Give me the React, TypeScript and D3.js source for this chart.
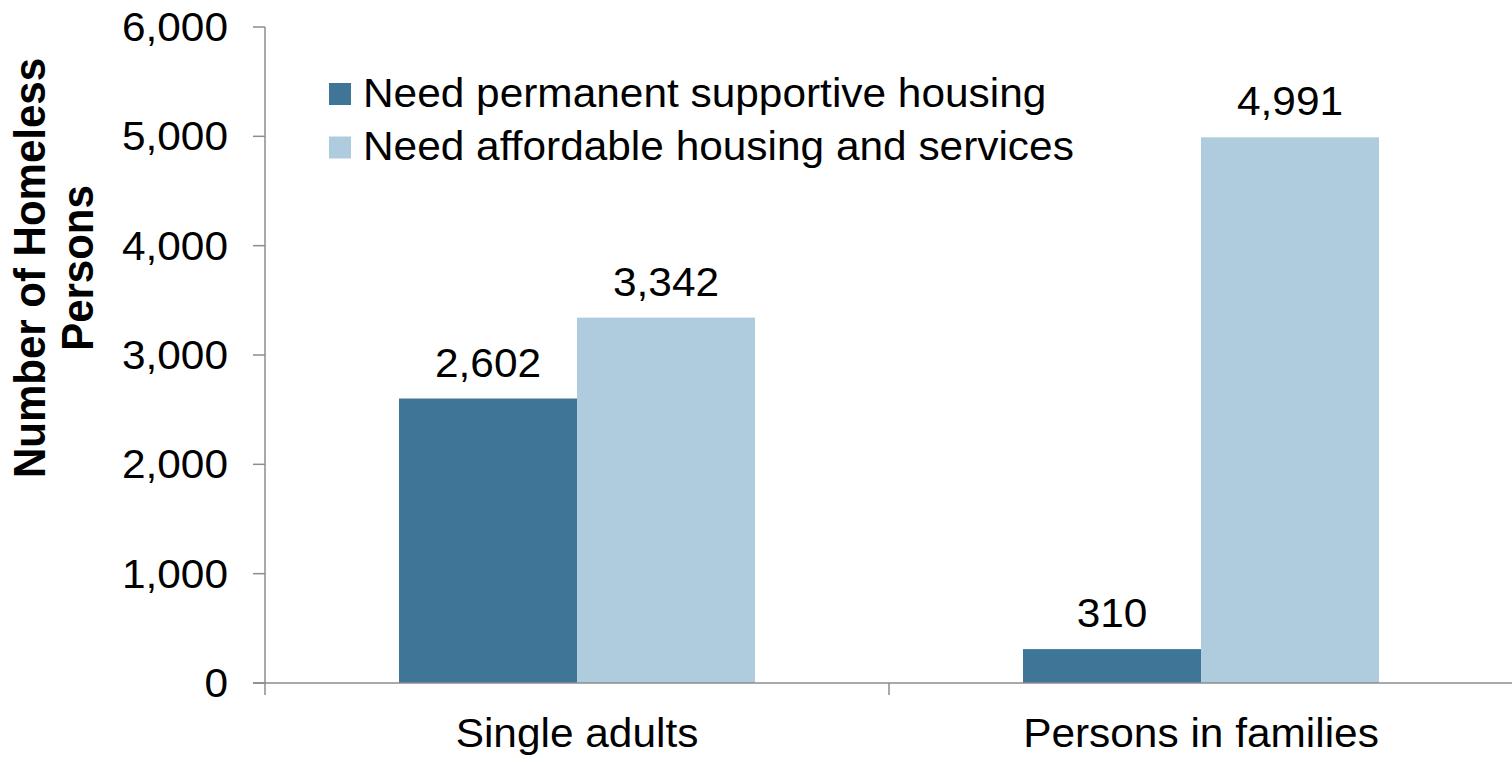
import React from "react";
import * as d3 from "d3";

const categories = ["Single adults", "Persons in families"];
const seriesNames = ["Need permanent supportive housing", "Need affordable housing and services"];
const permanentSupportive = [2602, 310];
const affordableServices = [3342, 4991];
const yTicks = [0, 1000, 2000, 3000, 4000, 5000, 6000];
const seriesColors = ["#3F7698", "#AECCDE"];
const yTitleLines = ["Number of Homeless", "Persons"];

const W = 1512;
const H = 758;
const FONT = "'Liberation Sans', Arial, sans-serif";
const SX = 1.06;
const AXIS = "#8C8C8C";

function T({ x, y, anchor = "start", size = 40, weight = "normal", rotate = 0, children }: any) {
  return (
    <text
      transform={`translate(${x},${y}) scale(${SX},1)${rotate ? ` rotate(${rotate})` : ""}`}
      textAnchor={anchor}
      fontFamily={FONT}
      fontSize={size}
      fontWeight={weight}
      fill="#000"
    >
      {children}
    </text>
  );
}

export default function App() {
  const left = 265;
  const right = 1513;
  const top = 27;
  const bottom = 683;
  const y = d3.scaleLinear().domain([0, 6000]).range([bottom, top]);
  const x0 = d3.scaleBand<string>().domain(categories).range([left, right]).paddingInner(0).paddingOuter(0);
  const groupPad = 134;
  const x1 = d3
    .scaleBand<number>()
    .domain([0, 1])
    .range([groupPad, x0.bandwidth() - groupPad])
    .paddingInner(0)
    .paddingOuter(0);
  const values = [permanentSupportive, affordableServices];
  const fmt = d3.format(",");
  const tickLen = 12;

  return (
    <svg
      width={W}
      height={H}
      style={{ position: "fixed", left: 0, top: 0, background: "#fff" }}
    >
      <rect x={0} y={0} width={W} height={H} fill="#fff" />
      {/* bars */}
      {categories.map((c, ci) =>
        values.map((vals, si) => {
          const bx = (x0(c) as number) + (x1(si) as number);
          const by = y(vals[ci]);
          return (
            <g key={`${ci}-${si}`}>
              <rect x={bx} y={by} width={x1.bandwidth()} height={bottom - by} fill={seriesColors[si]} />
              <T x={bx + x1.bandwidth() / 2} y={by - 22} anchor="middle">
                {fmt(vals[ci])}
              </T>
            </g>
          );
        })
      )}
      {/* y axis */}
      <line x1={left} x2={left} y1={top} y2={bottom + tickLen} stroke={AXIS} strokeWidth={1.5} />
      {yTicks.map((t) => (
        <g key={t}>
          <line x1={left - tickLen} x2={left} y1={y(t)} y2={y(t)} stroke={AXIS} strokeWidth={1.5} />
          <T x={228} y={y(t) + 14} anchor="end">
            {fmt(t)}
          </T>
        </g>
      ))}
      {/* x axis */}
      <line x1={left - tickLen} x2={right + 2} y1={bottom} y2={bottom} stroke={AXIS} strokeWidth={1.5} />
      {categories.map((c, i) => (
        <g key={c}>
          <line
            x1={(x0(c) as number) + x0.bandwidth()}
            x2={(x0(c) as number) + x0.bandwidth()}
            y1={bottom}
            y2={bottom + tickLen}
            stroke={AXIS}
            strokeWidth={1.5}
          />
          <T x={(x0(c) as number) + x0.bandwidth() / 2} y={747} anchor="middle">
            {c}
          </T>
        </g>
      ))}
      {/* y title */}
      {yTitleLines.map((l, i) => (
        <T key={l} x={45 + i * 48} y={268} anchor="middle" size={42} weight="bold" rotate={-90}>
          {l}
        </T>
      ))}
      {/* legend */}
      {seriesNames.map((s, i) => (
        <g key={s}>
          <rect x={329} y={83 + i * 53.5} width={22} height={22} fill={seriesColors[i]} />
          <T x={363} y={106.5 + i * 53.5}>
            {s}
          </T>
        </g>
      ))}
    </svg>
  );
}
